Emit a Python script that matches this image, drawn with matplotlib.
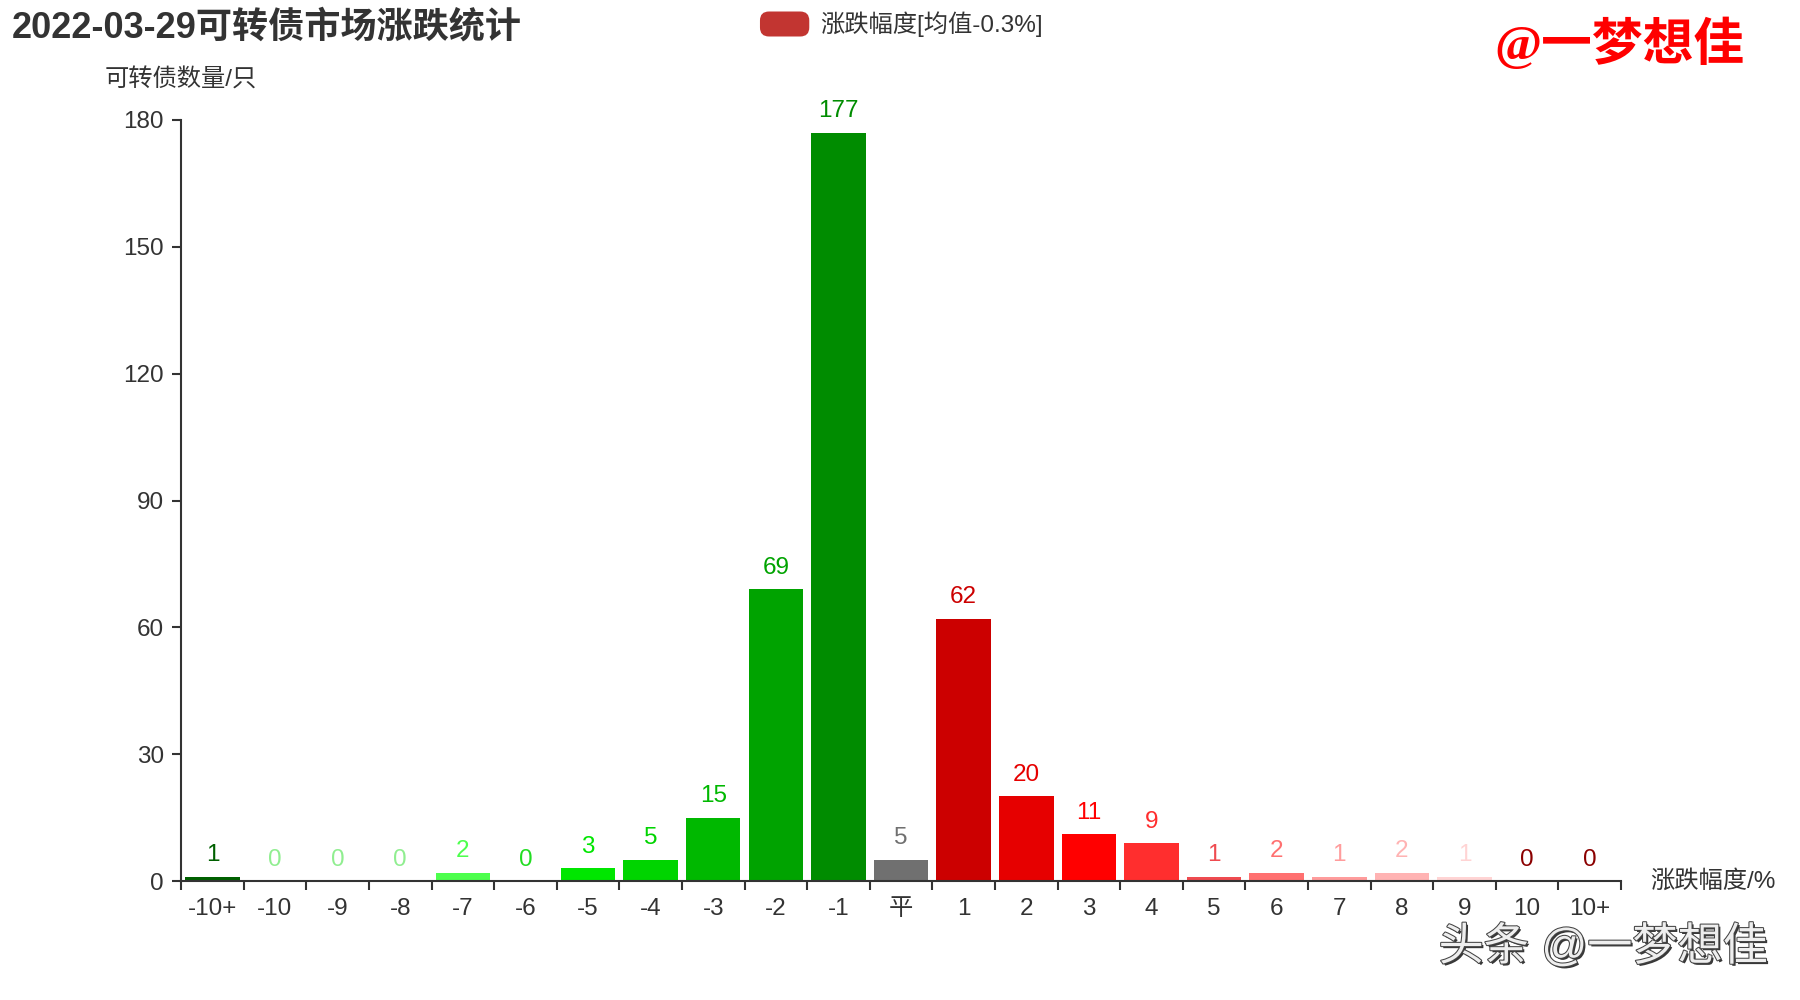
import matplotlib
matplotlib.use('Agg')
import matplotlib.pyplot as plt
import matplotlib.patheffects as pe
from matplotlib.patches import FancyBboxPatch

plt.rcParams['font.family'] = ['Liberation Sans', 'Noto Sans CJK SC', 'DejaVu Sans']

title = '2022-03-29可转债市场涨跌统计'
legend_label = '涨跌幅度[均值-0.3%]'
y_name = '可转债数量/只'
x_name = '涨跌幅度/%'

categories = ['-10+', '-10', '-9', '-8', '-7', '-6', '-5', '-4', '-3', '-2', '-1', '平',
              '1', '2', '3', '4', '5', '6', '7', '8', '9', '10', '10+']
counts = [1, 0, 0, 0, 2, 0, 3, 5, 15, 69, 177, 5,
          62, 20, 11, 9, 1, 2, 1, 2, 1, 0, 0]
colors = ['#006000', '#90ee90', '#90ee90', '#90ee90', '#4dff4d', '#22dd22', '#00e600',
          '#00d400', '#00b800', '#00a300', '#008c00', '#707070',
          '#cc0000', '#e60000', '#ff0000', '#ff2e2e', '#ef4b50', '#ff7070',
          '#ff9c9c', '#ffb3b3', '#ffd4d4', '#8b0000', '#8b0000']
y_ticks = [0, 30, 60, 90, 120, 150, 180]

fig = plt.figure(figsize=(18, 10), dpi=100)
ax = fig.add_axes([0.1006, 0.119, 0.8, 0.761])

x = list(range(len(categories)))
ax.bar(x, counts, width=0.87, color=colors)
for xi, v, c in zip(x, counts, colors):
    ax.annotate(str(v), (xi, v), xytext=(0, 7.5), textcoords='offset points',
                ha='center', va='bottom', fontsize=17.5, color=c)

ax.set_xlim(-0.5, len(categories) - 0.5)
ax.set_ylim(0, 180)
ax.set_yticks(y_ticks)
ax.set_xticks(x)
ax.set_xticklabels(categories)
ax.set_xticks([i - 0.5 for i in range(len(categories) + 1)], minor=True)

for s in ['top', 'right']:
    ax.spines[s].set_visible(False)
for s in ['left', 'bottom']:
    ax.spines[s].set_color('#333333')
    ax.spines[s].set_linewidth(1.5)
ax.tick_params(axis='y', length=6.5, width=1.5, color='#333333', pad=6,
               labelsize=17.5, labelcolor='#333333')
ax.tick_params(axis='x', which='major', length=0, pad=12.5,
               labelsize=17.5, labelcolor='#333333')
ax.tick_params(axis='x', which='minor', length=6.5, width=1.5, color='#333333')

# axis names
ax.text(0, 1.053, y_name, transform=ax.transAxes, ha='center', va='center',
        fontsize=17.5, color='#333333')
ax.text(1.020, 0.0, x_name, transform=ax.transAxes, ha='left', va='center',
        fontsize=17.5, color='#333333')

# title
fig.text(0.0067, 0.972, title, ha='left', va='center', fontsize=26,
         fontweight='bold', color='#333333')

# legend
fig.patches.append(FancyBboxPatch((0.4222, 0.9635), 0.0274, 0.025,
                                  boxstyle='round,pad=0.0,rounding_size=0.005',
                                  transform=fig.transFigure, facecolor='#c23531',
                                  edgecolor='none', mutation_aspect=1.8))
fig.text(0.4555, 0.976, legend_label, ha='left', va='center', fontsize=17.5,
         color='#333333')

# watermarks
fig.text(0.9694, 0.955, '@一梦想佳', ha='right', va='center', fontsize=36.5,
         fontweight='bold', color='#ff0000',
         family=['Liberation Serif', 'Noto Sans CJK SC'])
fig.text(0.982, 0.053, '头条 @一梦想佳', ha='right', va='center', fontsize=32.5,
         color='#eeeeee',
         path_effects=[pe.withSimplePatchShadow(offset=(1.5, -1.5), shadow_rgbFace='#222222', alpha=0.9),
                       pe.withStroke(linewidth=1.5, foreground='#444444')])

fig.savefig('out.png', dpi=100)
